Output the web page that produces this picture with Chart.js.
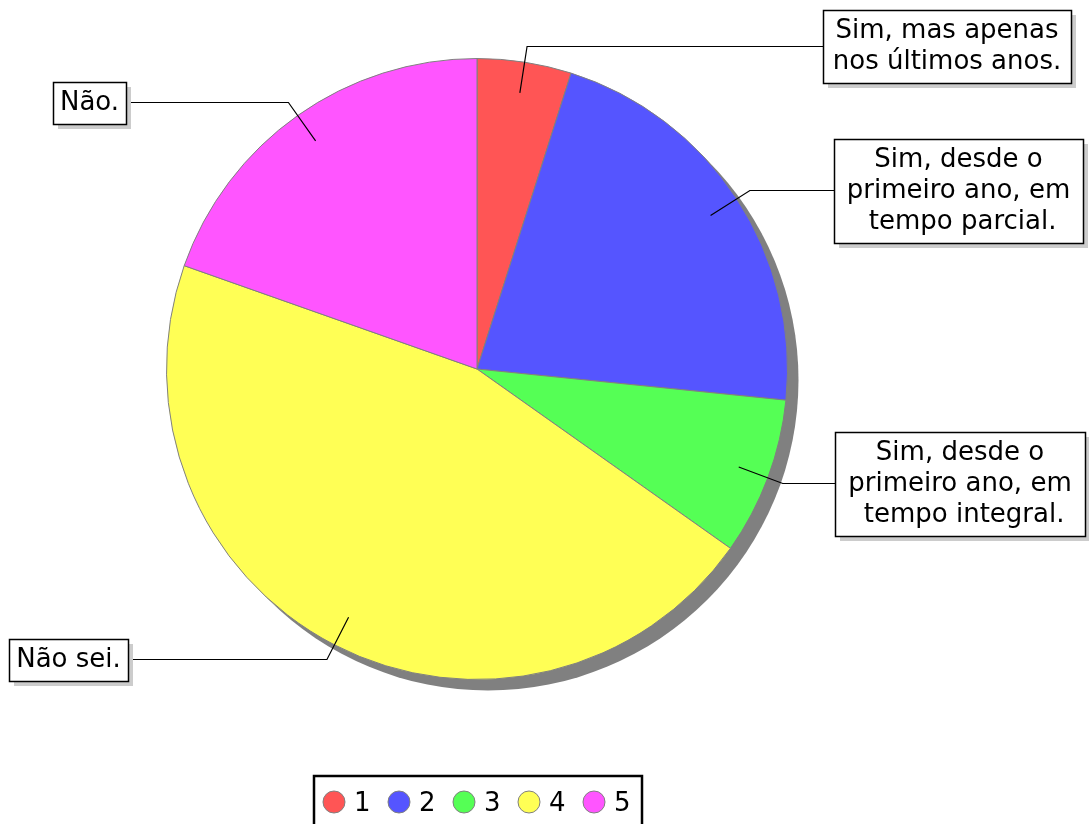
<!DOCTYPE html>
<html>
<head>
<meta charset="utf-8">
<script src="https://cdn.jsdelivr.net/npm/chart.js@4/dist/chart.umd.min.js"></script>
<style>
  html, body { margin: 0; padding: 0; background: #fff; }
  #wrap { width: 1089px; height: 824px; position: relative; }
</style>
</head>
<body>
<div id="wrap"><canvas id="pie"></canvas></div>
<script>
const labels = ['1', '2', '3', '4', '5'];
const values = [4.9, 21.7, 8.2, 45.6, 19.6];
const calloutText = [
    ['Sim, mas apenas', 'nos últimos anos.'],
    ['Sim, desde o', 'primeiro ano, em', ' tempo parcial.'],
    ['Sim, desde o', 'primeiro ano, em', ' tempo integral.'],
    ['Não sei.'],
    ['Não.']
];
const colors = ['#ff5555', '#5555ff', '#55ff55', '#ffff55', '#ff55ff'];

// where each callout box sits (left edge + width)
const boxLeft = [823, 834, 835, 9, 53];
const boxWidth = [248, 249, 250, 119, 73];

const FONT = '26px "DejaVu Sans"';
const LINE_H = 31;

const shadowPlugin = {
    id: 'pieShadow',
    beforeDatasetsDraw(chart) {
        const arc = chart.getDatasetMeta(0).data[0];
        if (!arc) return;
        const ctx = chart.ctx;
        ctx.save();
        ctx.fillStyle = '#808080';
        ctx.beginPath();
        ctx.arc(arc.x + 11, arc.y + 11, arc.outerRadius, 0, Math.PI * 2);
        ctx.fill();
        ctx.restore();
    }
};

const calloutPlugin = {
    id: 'callouts',
    afterDatasetsDraw(chart) {
        const ctx = chart.ctx;
        const arcs = chart.getDatasetMeta(0).data;
        ctx.save();
        ctx.font = FONT;
        arcs.forEach((arc, i) => {
            const mid = (arc.startAngle + arc.endAngle) / 2;
            const R = arc.outerRadius;
            const ax = arc.x + Math.cos(mid) * R * 0.9;
            const ay = arc.y + Math.sin(mid) * R * 0.9;
            const bx = arc.x + Math.cos(mid) * (R + 16);
            const by = Math.round(arc.y + Math.sin(mid) * (R + 16)) + 0.5;
            const left = boxLeft[i];
            const w = boxWidth[i];
            const lines = calloutText[i];
            const h = lines.length * LINE_H + 11;
            const top = Math.round(by - h / 2);
            const rightSide = left > arc.x;
            const endX = rightSide ? left : left + w;

            ctx.strokeStyle = '#000';
            ctx.lineWidth = 1.2;
            ctx.beginPath();
            ctx.moveTo(ax, ay);
            ctx.lineTo(bx, by);
            ctx.lineTo(endX, by);
            ctx.stroke();

            ctx.fillStyle = '#cccccc';
            ctx.fillRect(left + 5, top + 5, w, h);
            ctx.fillStyle = '#fff';
            ctx.fillRect(left, top, w, h);
            ctx.lineWidth = 1.5;
            ctx.strokeRect(left + 0.5, top + 0.5, w, h);

            ctx.fillStyle = '#000';
            ctx.textAlign = 'center';
            ctx.textBaseline = 'alphabetic';
            lines.forEach((t, j) => {
                ctx.fillText(t, left + w / 2, top + 28 + j * LINE_H);
            });
        });
        ctx.restore();
    }
};

const legendPlugin = {
    id: 'bottomLegend',
    afterDraw(chart) {
        const ctx = chart.ctx;
        const bg = chart.data.datasets[0].backgroundColor;
        ctx.save();
        ctx.fillStyle = '#fff';
        ctx.fillRect(314, 776, 328, 60);
        ctx.strokeStyle = '#000';
        ctx.lineWidth = 2.5;
        ctx.strokeRect(314, 776, 328, 60);
        ctx.font = FONT;
        ctx.textAlign = 'left';
        ctx.textBaseline = 'alphabetic';
        chart.data.labels.forEach((lab, i) => {
            const cx = 334 + i * 65;
            const cy = 802;
            ctx.beginPath();
            ctx.arc(cx, cy, 11, 0, Math.PI * 2);
            ctx.fillStyle = bg[i];
            ctx.fill();
            ctx.strokeStyle = '#808080';
            ctx.lineWidth = 1;
            ctx.stroke();
            ctx.fillStyle = '#000';
            ctx.fillText(lab, cx + 20, 811);
        });
        ctx.restore();
    }
};

const ctx = document.getElementById('pie').getContext('2d');
const pieChart = new Chart(ctx, {
    type: 'pie',
    data: {
        labels: labels,
        datasets: [{
            data: values,
            backgroundColor: colors,
            borderColor: '#808080',
            borderWidth: 1
        }]
    },
    options: {
        responsive: true,
        maintainAspectRatio: false,
        animation: false,
        layout: {
            padding: { left: 166, right: 301, top: 58, bottom: 144 }
        },
        plugins: {
            legend: { display: false },
            tooltip: { enabled: false }
        }
    },
    plugins: [shadowPlugin, calloutPlugin, legendPlugin]
});
</script>
</body>
</html>
